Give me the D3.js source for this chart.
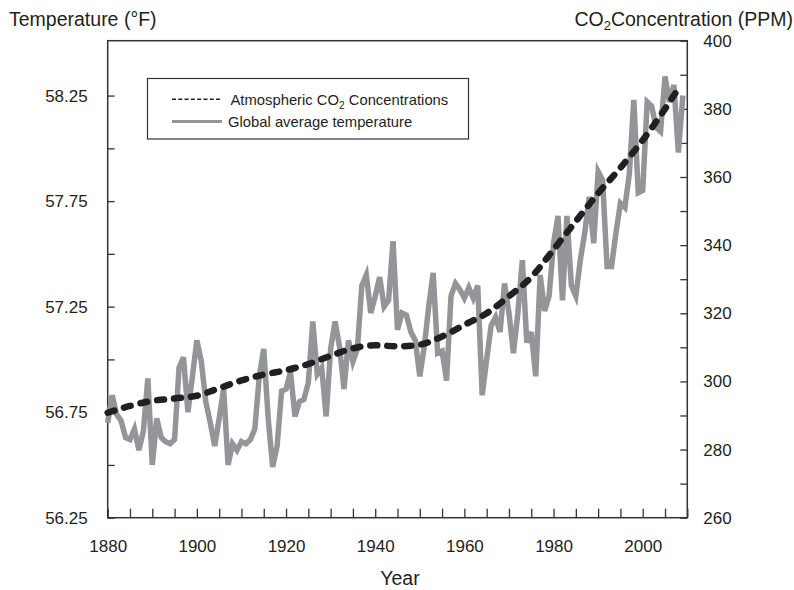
<!DOCTYPE html>
<html>
<head>
<meta charset="utf-8">
<script src="https://cdn.jsdelivr.net/npm/d3@7"></script>
<style>
  body { margin: 0; background: #fff; }
  text { font-family: "Liberation Sans", Arial, sans-serif; fill: #231f20; }
</style>
</head>
<body>
<div id="container"></div>
<script>
// annual global average temperature, deg F, 1880-2009
var tempStart = 1880;
var tempValues = [
  56.70, 56.83, 56.74, 56.71, 56.63, 56.62, 56.67, 56.57, 56.66, 56.91,
  56.50, 56.72, 56.63, 56.61, 56.60, 56.62, 56.96, 57.01, 56.75, 56.92,
  57.09, 56.99, 56.80, 56.70, 56.59, 56.72, 56.86, 56.50, 56.60, 56.57,
  56.61, 56.60, 56.62, 56.67, 56.92, 57.05, 56.72, 56.49, 56.59, 56.85,
  56.86, 56.94, 56.73, 56.80, 56.81, 56.89, 57.18, 56.93, 56.96, 56.73,
  57.05, 57.18, 57.06, 56.86, 57.09, 56.99, 57.05, 57.35, 57.40, 57.22,
  57.30, 57.39, 57.25, 57.28, 57.56, 57.14, 57.22, 57.21, 57.13, 57.09,
  56.92, 57.06, 57.25, 57.41, 57.03, 57.04, 56.90, 57.30, 57.36, 57.33,
  57.29, 57.34, 57.29, 57.35, 56.83, 57.00, 57.16, 57.20, 57.13, 57.36,
  57.22, 57.03, 57.22, 57.47, 57.08, 57.13, 56.92, 57.40, 57.23, 57.30,
  57.55, 57.68, 57.28, 57.68, 57.35, 57.30, 57.47, 57.60, 57.77, 57.55,
  57.89, 57.85, 57.44, 57.44, 57.60, 57.74, 57.72, 57.88, 58.23, 57.79,
  57.80, 58.22, 58.20, 58.10, 58.08, 58.34, 58.22, 58.30, 57.98, 58.25
];

// atmospheric CO2, ppm
var co2Years  = [1880, 1885, 1890, 1895, 1900, 1905, 1910, 1915, 1920, 1925, 1930, 1935, 1940, 1945,
                 1950, 1955, 1960, 1965, 1970, 1975, 1980, 1985, 1990, 1995, 2000, 2005, 2008];
var co2Values = [290.8, 292.8, 294.3, 295.0, 295.8, 298.0, 300.3, 302.0, 303.3, 305.1, 307.5, 309.7, 310.6, 310.3,
                 310.8, 313.2, 316.6, 320.0, 325.0, 330.6, 338.7, 347.0, 355.2, 362.7, 370.8, 380.0, 386.0];

var yearTicks = [1880, 1885, 1890, 1895, 1900, 1905, 1910, 1915, 1920, 1925, 1930, 1935, 1940, 1945,
                 1950, 1955, 1960, 1965, 1970, 1975, 1980, 1985, 1990, 1995, 2000, 2005, 2010];
var yearLabels = [1880, 1900, 1920, 1940, 1960, 1980, 2000];
var tempTicks = [56.25, 56.5, 56.75, 57, 57.25, 57.5, 57.75, 58, 58.25];
var tempLabels = [56.25, 56.75, 57.25, 57.75, 58.25];
var co2Ticks = [260, 270, 280, 290, 300, 310, 320, 330, 340, 350, 360, 370, 380, 390, 400];
var co2Labels = [260, 280, 300, 320, 340, 360, 380, 400];

var width = 794, height = 590;
var plotLeft = 107.7, plotRight = 687.3, plotTop = 40.7, plotBottom = 517.7;

var svg = d3.select("#container").append("svg")
  .attr("width", width)
  .attr("height", height);

var x = d3.scaleLinear().domain([1880, 2010]).range([plotLeft, plotRight]);
var yT = d3.scaleLinear().domain([56.25, 58.51]).range([plotBottom, plotTop]);
var yC = d3.scaleLinear().domain([260, 400]).range([plotBottom, plotTop]);

var tempData = tempValues.map(function(v, i){ return {year: tempStart + i, value: v}; });
var co2Data = co2Years.map(function(y, i){ return {year: y, value: co2Values[i]}; });

// axes, ticks point inward
var xAxis = d3.axisBottom(x).tickValues(yearTicks).tickSize(-9).tickPadding(22)
  .tickFormat(function(d){ return yearLabels.indexOf(d) >= 0 ? d : ""; });
var lAxis = d3.axisLeft(yT).tickValues(tempTicks).tickSize(-7).tickPadding(20)
  .tickFormat(function(d){ return tempLabels.indexOf(d) >= 0 ? d3.format(".2f")(d) : ""; });
var rAxis = d3.axisRight(yC).tickValues(co2Ticks).tickSize(-7).tickPadding(16)
  .tickFormat(function(d){ return co2Labels.indexOf(d) >= 0 ? d : ""; });

function styleAxis(g){
  g.select(".domain").remove();
  g.selectAll("line").attr("stroke", "#333").attr("stroke-width", 1.3);
  g.selectAll("text").style("font-family", "'Liberation Sans', Arial, sans-serif")
    .style("font-size", "17px").attr("fill", "#231f20");
}

svg.append("g").attr("transform", "translate(0," + plotBottom + ")").call(xAxis).call(styleAxis);
svg.append("g").attr("transform", "translate(" + plotLeft + ",0)").call(lAxis).call(styleAxis);
svg.append("g").attr("transform", "translate(" + plotRight + ",0)").call(rAxis).call(styleAxis);

// frame
svg.append("rect")
  .attr("x", plotLeft).attr("y", plotTop)
  .attr("width", plotRight - plotLeft).attr("height", plotBottom - plotTop)
  .attr("fill", "none").attr("stroke", "#333").attr("stroke-width", 1.5);

// temperature line
var tempLine = d3.line().x(d => x(d.year)).y(d => yT(d.value));
svg.append("path")
  .datum(tempData)
  .attr("d", tempLine)
  .attr("fill", "none")
  .attr("stroke", "#939598")
  .attr("stroke-width", 5.5);

// co2 line
var co2Line = d3.line().curve(d3.curveMonotoneX).x(d => x(d.year)).y(d => yC(d.value));
svg.append("path")
  .datum(co2Data)
  .attr("d", co2Line)
  .attr("fill", "none")
  .attr("stroke", "#231f20")
  .attr("stroke-width", 6.5)
  .attr("stroke-linecap", "round")
  .attr("stroke-dasharray", "7,10");

// legend
var lg = svg.append("g");
lg.append("rect")
  .attr("x", 147.5).attr("y", 78.5).attr("width", 321).attr("height", 60.5)
  .attr("fill", "#fff").attr("stroke", "#333").attr("stroke-width", 1.2);
lg.append("line")
  .attr("x1", 172).attr("x2", 222).attr("y1", 99.3).attr("y2", 99.3)
  .attr("stroke", "#231f20").attr("stroke-width", 1.6).attr("stroke-dasharray", "4,2.3");
lg.append("line")
  .attr("x1", 172).attr("x2", 222).attr("y1", 121.5).attr("y2", 121.5)
  .attr("stroke", "#939598").attr("stroke-width", 3);
var t1 = lg.append("text").attr("x", 230.5).attr("y", 105).style("font-size", "14.8px");
t1.append("tspan").text("Atmospheric CO");
t1.append("tspan").attr("dy", 3.5).style("font-size", "10px").text("2");
t1.append("tspan").attr("dy", -3.5).text(" Concentrations");
lg.append("text").attr("x", 228).attr("y", 126.5).style("font-size", "14.8px")
  .text("Global average temperature");

// titles
svg.append("text").attr("x", 9).attr("y", 26).style("font-size", "19.5px")
  .text("Temperature (°F)");
var t2 = svg.append("text").attr("x", 793).attr("y", 26).attr("text-anchor", "end")
  .style("font-size", "19.5px");
t2.append("tspan").text("CO");
t2.append("tspan").attr("dy", 4).style("font-size", "13px").text("2");
t2.append("tspan").attr("dy", -4).text("Concentration (PPM)");
svg.append("text").attr("x", 400).attr("y", 585).attr("text-anchor", "middle")
  .style("font-size", "19.5px").text("Year");
</script>
</body>
</html>
